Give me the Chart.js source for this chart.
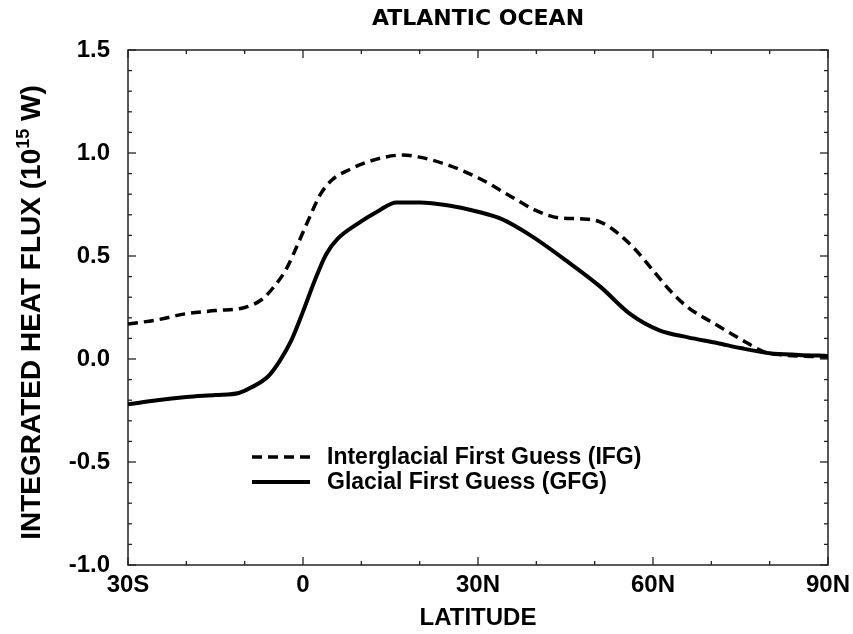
<!DOCTYPE html>
<html>
<head>
<meta charset="utf-8">
<script src="https://cdn.jsdelivr.net/npm/chart.js@4.4.1/dist/chart.umd.min.js"></script>
<style>
  html, body { margin: 0; padding: 0; background: #fff; }
  #wrap { width: 853px; height: 634px; }
</style>
</head>
<body>
<div id="wrap"><canvas id="c" width="853" height="634"></canvas></div>
<script>
// ---- data ----
const chartTitle = 'ATLANTIC OCEAN';
const xTitle = 'LATITUDE';
const yTitleMain = 'INTEGRATED HEAT FLUX (10';
const yTitleSup = '15';
const yTitleEnd = ' W)';

const xTickValues = [-30, 0, 30, 60, 90];
const xTickLabels = ['30S', '0', '30N', '60N', '90N'];
const yTickValues = [-1.0, -0.5, 0.0, 0.5, 1.0, 1.5];

const ifgLabel = 'Interglacial First Guess (IFG)';
const ifgLat = [-30, -25, -20, -15, -10, -7, -5, -3, -1, 1, 3, 5, 8, 12, 17, 20, 25, 30, 35, 40, 44, 48, 51, 54, 57, 60, 63, 66, 70, 73, 76, 79, 82, 90];
const ifgVal = [0.17, 0.19, 0.22, 0.235, 0.25, 0.29, 0.35, 0.43, 0.55, 0.68, 0.80, 0.87, 0.92, 0.965, 0.99, 0.98, 0.94, 0.88, 0.80, 0.72, 0.685, 0.68, 0.665, 0.61, 0.53, 0.43, 0.33, 0.25, 0.18, 0.13, 0.08, 0.035, 0.02, 0.01];

const gfgLabel = 'Glacial First Guess (GFG)';
const gfgLat = [-30, -25, -20, -15, -11, -9, -6, -4, -2, 0, 2, 4, 6, 9, 13, 16, 20, 25, 30, 34, 39, 45, 51, 56, 61, 66, 71, 75, 80, 85, 90];
const gfgVal = [-0.22, -0.20, -0.185, -0.175, -0.165, -0.14, -0.085, -0.01, 0.09, 0.23, 0.38, 0.51, 0.585, 0.65, 0.72, 0.76, 0.76, 0.745, 0.715, 0.68, 0.60, 0.48, 0.35, 0.22, 0.14, 0.105, 0.078, 0.053, 0.028, 0.02, 0.015];

// ---- styles ----
const FONT = "'Liberation Sans', Arial, Helvetica, sans-serif";
const INK = '#000';

const toXY = (xs, ys) => xs.map((x, i) => ({ x: x, y: ys[i] }));

const framePlugin = {
  id: 'frame',
  beforeDatasetsDraw(chart) {
    const { ctx, chartArea: a, scales: { x, y } } = chart;
    ctx.save();
    ctx.strokeStyle = '#222';
    ctx.lineWidth = 1.5;
    ctx.strokeRect(a.left, a.top, a.right - a.left, a.bottom - a.top);
    ctx.lineWidth = 1.3;
    const line = (x1, y1, x2, y2) => { ctx.beginPath(); ctx.moveTo(x1, y1); ctx.lineTo(x2, y2); ctx.stroke(); };
    for (let v = x.min; v <= x.max; v += 10) {
      const px = x.getPixelForValue(v);
      const len = (v % 30 === 0) ? 8 : 4;
      line(px, a.bottom, px, a.bottom - len);
      line(px, a.top, px, a.top + len);
    }
    for (let k = Math.round(y.min * 10); k <= Math.round(y.max * 10); k++) {
      const py = y.getPixelForValue(k / 10);
      const len = (k % 5 === 0) ? 8 : 4;
      line(a.left, py, a.left + len, py);
      line(a.right, py, a.right - len, py);
    }
    ctx.restore();
  },
  afterDraw(chart) {
    const { ctx, chartArea: a } = chart;
    // chart title centred over the plot area
    ctx.save();
    ctx.font = "bold 22px 'DejaVu Sans', sans-serif";
    ctx.fillStyle = INK;
    ctx.textAlign = 'center';
    ctx.textBaseline = 'middle';
    ctx.fillText(chartTitle, (a.left + a.right) / 2, 19);
    ctx.restore();

    ctx.save();
    // y-axis title with superscript
    const big = "bold 28px " + FONT;
    const small = "bold 18px " + FONT;
    ctx.font = big;
    const w1 = ctx.measureText(yTitleMain).width;
    const w3 = ctx.measureText(yTitleEnd).width;
    ctx.font = small;
    const w2 = ctx.measureText(yTitleSup).width;
    const total = w1 + w2 + w3;
    const cx = 32, cy = (a.top + a.bottom) / 2 + 5;
    ctx.translate(cx, cy);
    ctx.rotate(-Math.PI / 2);
    ctx.fillStyle = INK;
    ctx.textBaseline = 'middle';
    ctx.textAlign = 'left';
    let sx = -total / 2;
    ctx.font = big; ctx.fillText(yTitleMain, sx, 0); sx += w1;
    ctx.font = small; ctx.fillText(yTitleSup, sx, -8); sx += w2;
    ctx.font = big; ctx.fillText(yTitleEnd, sx, 0);
    ctx.restore();

    // legend inside plot
    ctx.save();
    const lx0 = a.left + 124, lx1 = a.left + 182, tx = a.left + 199;
    const rows = [
      { y: a.top + 407, ds: chart.data.datasets[0] },
      { y: a.top + 432, ds: chart.data.datasets[1] }
    ];
    ctx.font = "bold 23px " + FONT;
    ctx.textBaseline = 'middle';
    ctx.fillStyle = INK;
    rows.forEach(r => {
      ctx.strokeStyle = r.ds.borderColor;
      ctx.lineWidth = r.ds.borderWidth;
      ctx.setLineDash(r.ds.borderDash || []);
      ctx.beginPath(); ctx.moveTo(lx0, r.y); ctx.lineTo(lx1, r.y); ctx.stroke();
      ctx.setLineDash([]);
      ctx.fillText(r.ds.label, tx, r.y + 1);
    });
    ctx.restore();
  }
};

new Chart(document.getElementById('c'), {
  type: 'line',
  data: {
    datasets: [
      {
        label: ifgLabel,
        data: toXY(ifgLat, ifgVal),
        borderColor: INK,
        borderWidth: 3.5,
        borderDash: [10, 6],
        pointRadius: 0,
        fill: false,
        cubicInterpolationMode: 'monotone'
      },
      {
        label: gfgLabel,
        data: toXY(gfgLat, gfgVal),
        borderColor: INK,
        borderWidth: 4,
        pointRadius: 0,
        fill: false,
        cubicInterpolationMode: 'monotone'
      }
    ]
  },
  options: {
    responsive: false,
    animation: false,
    devicePixelRatio: 1,
    layout: { padding: { left: 0, right: 25, top: 50, bottom: 0 } },
    plugins: {
      legend: { display: false },
      tooltip: { enabled: false },
      title: { display: false }
    },
    scales: {
      x: {
        type: 'linear',
        min: -30, max: 90,
        grid: { display: false, drawTicks: false },
        border: { display: false },
        afterBuildTicks: (s) => { s.ticks = xTickValues.map(v => ({ value: v })); },
        afterFit: (s) => { s.height = 69; s.paddingRight = 0; s.paddingLeft = 0; },
        ticks: {
          color: INK,
          padding: 6,
          maxRotation: 0,
          autoSkip: false,
          font: { family: FONT, size: 24, weight: 'bold' },
          callback: (v) => xTickLabels[xTickValues.indexOf(v)]
        },
        title: {
          display: true,
          text: xTitle,
          color: INK,
          font: { family: FONT, size: 24, weight: 'bold', lineHeight: 1.2 },
          padding: { top: 0, bottom: 1 }
        }
      },
      y: {
        type: 'linear',
        min: -1.0, max: 1.5,
        grid: { display: false, drawTicks: false },
        border: { display: false },
        afterBuildTicks: (s) => { s.ticks = yTickValues.map(v => ({ value: v })); },
        afterFit: (s) => { s.width = 128; },
        ticks: {
          color: INK,
          padding: 18,
          font: { family: FONT, size: 24, weight: 'bold' },
          callback: (v) => Number(v).toFixed(1)
        }
      }
    }
  },
  plugins: [framePlugin]
});
</script>
</body>
</html>
